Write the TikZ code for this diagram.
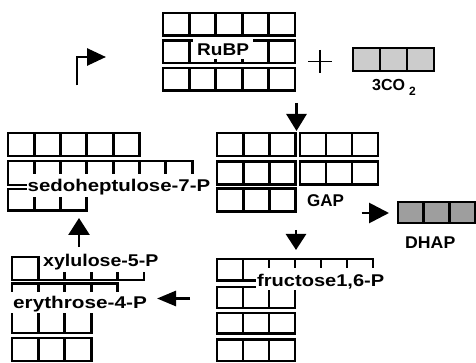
\documentclass[tikz,border=0pt]{standalone}
\usepackage{fontspec}
\setmainfont{Liberation Sans}
\usepackage{graphicx}
\usetikzlibrary{arrows.meta}

% one row of n carbon cells: [style]{x0}{top}{n}{cell width}{height}
\newcommand\CellRow[6][]{%
  \foreach \k in {1,...,#4}{%
    \draw[cell,#1] ({#2+(\k-1)*#5},#3) rectangle ++(#5,#6);
  }%
}

\tikzset{
  cell/.style={draw=black, line width=2.9pt},
  lbl/.style={fill=white, inner ysep=0pt, anchor=base west,
              font=\bfseries\fontsize{17}{17}\selectfont},
  plain/.style={inner sep=0pt, anchor=base west,
                font=\bfseries\fontsize{17}{17}\selectfont},
  arr/.style args={#1/#2}{line width=2.8pt, -{Triangle[length=#1,width=#2]}},
}

\begin{document}
\begin{tikzpicture}[x=1pt, y=-1pt]
\fill[white] (0,0) rectangle (476,363);
\useasboundingbox (0,0) rectangle (476,363);

% RuBP
\CellRow{163}{13}{5}{26.4}{22.5}
\CellRow{163}{40.5}{5}{26.4}{22.5}
\CellRow{163}{68}{5}{26.4}{22.5}

% 3 CO2
\CellRow[fill=black!20]{353}{48}{3}{27}{23}

% GAP
\CellRow{217}{133}{3}{26.3}{23}
\CellRow{217}{161.5}{3}{26.3}{23}
\CellRow{217}{188.5}{3}{26.3}{23}
\CellRow{300}{133}{3}{26}{23}
\CellRow{300}{161.5}{3}{26}{23}

% DHAP
\CellRow[fill=black!38]{398}{202}{3}{25.7}{21}

% fructose 1,6-P and below
\CellRow{217}{259}{6}{26}{21.5}
\CellRow{217}{287}{3}{26}{21}
\CellRow{217}{313}{3}{26}{20.5}
\CellRow{217}{339.5}{3}{26}{21.5}

% xylulose / erythrose group
\CellRow{12}{257}{5}{26.4}{23}
\CellRow{12}{283.5}{4}{26.4}{22.5}
\CellRow{12}{311}{3}{26.4}{22}
\CellRow{12}{338}{3}{26.4}{23}

% sedoheptulose group
\CellRow{8}{133}{5}{26.3}{23}
\CellRow{8}{161}{7}{26.3}{24}
\CellRow{8}{189}{3}{26.3}{21.5}

% labels
\node[lbl, text height=18pt, text depth=3pt, inner xsep=4pt] (rubp) at (193,56)
  {\scalebox{1.12}[1]{RuBP}};
\node[lbl, text height=18pt, text depth=5pt, inner xsep=1pt] (sed) at (26.5,192)
  {\scalebox{1.2}[1]{sedoheptulose-7-P}};
\node[lbl, text height=13pt, text depth=6pt, inner xsep=3.5pt] (xyl) at (39.5,266)
  {\scalebox{1.15}[1]{xylulose-5-P}};
\node[lbl, text height=16pt, text depth=4.5pt, inner xsep=2pt] (ery) at (11,308)
  {\scalebox{1.22}[1]{erythrose-4-P}};
\node[lbl, text height=18pt, text depth=4pt, inner xsep=1.5pt] (fru) at (255.5,286)
  {\scalebox{1.18}[1]{fructose1,6-P}};
\node[plain] (gap) at (307,207) {GAP};
\node[plain] (dhap) at (405,248) {\scalebox{1.04}[1]{DHAP}};
\node[plain] (co2) at (372,90.5)
  {{\fontsize{16}{16}\selectfont 3CO}\hspace{4pt}\raisebox{-5pt}{\fontsize{12}{12}\selectfont 2}};

% plus sign
\draw[line width=1.1pt] (308,61.5) -- (332,61.5) (320,50) -- (320,73);

% arrow end points
\coordinate (startFoot) at (77,85.5);
\coordinate (startTip) at (106,57);
\coordinate (rubpOut) at (296.5,103);
\coordinate (gapIn) at (296.5,131);
\coordinate (gapOut) at (296,230);
\coordinate (fruIn) at (296,250);
\coordinate (gapSide) at (361.5,213);
\coordinate (dhapIn) at (389,213);
\coordinate (fruOut) at (190,298.5);
\coordinate (eryIn) at (157,298.5);
\coordinate (xylOut) at (79,247);
\coordinate (sedIn) at (79,218);

% arrows
\draw[arr=19pt/17pt] (startFoot) |- (startTip);
\draw[arr=17pt/20pt] (rubpOut) -- (gapIn);
\draw[arr=16pt/20pt] (gapOut) -- (fruIn);
\draw[arr=20pt/20pt] (gapSide) -- (dhapIn);
\draw[arr=19pt/15pt] (fruOut) -- (eryIn);
\draw[arr=17pt/21pt] (xylOut) -- (sedIn);
\end{tikzpicture}
\end{document}
